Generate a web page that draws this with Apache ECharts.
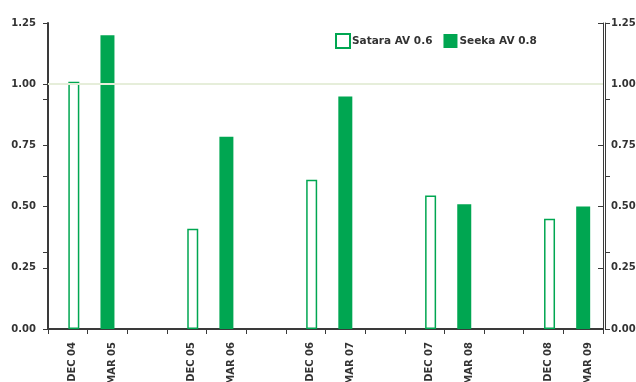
<!DOCTYPE html>
<html>
<head>
<meta charset="utf-8">
<script src="https://cdn.jsdelivr.net/npm/echarts@6/dist/echarts.min.js"></script>
<style>
  html, body { margin: 0; padding: 0; background: #fff; }
  #chart { width: 636px; height: 382px; }
</style>
</head>
<body>
<div id="chart"></div>
<script>
  // categories, blanks are the gaps between years
  var categories = ['DEC 04', 'MAR 05', '', 'DEC 05', 'MAR 06', '', 'DEC 06', 'MAR 07', '', 'DEC 07', 'MAR 08', '', 'DEC 08', 'MAR 09']
  var sataraValues = [1.01, null, null, 0.41, null, null, 0.61, null, null, 0.545, null, null, 0.45, null]
  var seekaValues = [null, 1.20, null, null, 0.785, null, null, 0.95, null, null, 0.51, null, null, 0.50]
  var yTicks = [0, 0.25, 0.5, 0.75, 1, 1.25]

  var green = '#00a651'
  var axisColor = '#3a3a3a'
  var font = 'DejaVu Sans'

  var chart = echarts.init(document.getElementById('chart'))

  /*  value axis, used twice (left / right) */
  function valueAxis(pos, gridIndex, show) {
    return {
      type: 'value',
      gridIndex: gridIndex,
      position: pos,
      show: show,
      min: yTicks[0],
      max: yTicks[yTicks.length - 1],
      interval: 0.25,
      axisLine: { show: true, lineStyle: { color: axisColor, width: pos == 'left' ? 2 : 1 } },
      axisTick: { show: true, inside: pos == 'right', length: 5, lineStyle: { color: axisColor } },
      axisLabel: {
        margin: pos == 'left' ? 12 : 8,
        color: '#333',
        fontFamily: font,
        fontWeight: 'bold',
        fontSize: 10,
        formatter: function(v) { return v.toFixed(2) }
      },
      splitLine: { show: false }
    }
  }

  /*  extra tick set seen on both vertical axes */
  function extraTicks(pos, offset) {
    return {
      type: 'value',
      gridIndex: 0,
      position: pos,
      offset: offset,
      min: 0,
      max: 4,
      interval: 1,
      axisLine: { show: pos == 'right', lineStyle: { color: axisColor, width: 1 } },
      axisTick: { show: true, length: 5, lineStyle: { color: axisColor } },
      axisLabel: { show: false },
      splitLine: { show: false }
    }
  }

  var option = {
    animation: false,
    backgroundColor: '#fff',
    grid: [
      { left: 48, right: 33, top: 23, bottom: 53, outerBoundsMode: 'none', containLabel: false },
      // the hollow bars sit a few pixels right of the slot centre
      { left: 54, right: 27, top: 23, bottom: 53, outerBoundsMode: 'none', containLabel: false }
    ],
    legend: {
      left: 335,
      top: 33,
      padding: 0,
      itemWidth: 14,
      itemHeight: 14,
      itemGap: 11,
      icon: 'rect',
      textStyle: { color: '#333', fontFamily: font, fontWeight: 'bold', fontSize: 10.5, padding: [0, 0, 0, -3] },
      data: ['Satara AV 0.6', 'Seeka AV 0.8']
    },
    xAxis: [{
      type: 'category',
      gridIndex: 0,
      data: categories,
      axisLine: { lineStyle: { color: axisColor, width: 2 } },
      axisTick: { show: true, length: 5, interval: 0, lineStyle: { color: axisColor } },
      axisLabel: {
        interval: 0,
        rotate: 90,
        margin: 13,
        verticalAlign: 'top',
        color: '#333',
        fontFamily: font,
        fontWeight: 'bold',
        fontSize: 10
      }
    }, {
      type: 'category',
      gridIndex: 1,
      show: false,
      data: categories
    }],
    yAxis: [
      valueAxis('left', 0, true),
      valueAxis('right', 0, true),
      extraTicks('left', 0),
      extraTicks('right', 2),
      valueAxis('left', 1, false)
    ],
    series: [{
      name: 'Satara AV 0.6',
      type: 'bar',
      xAxisIndex: 1,
      yAxisIndex: 4,
      barWidth: 11,
      itemStyle: { color: '#fff', borderColor: green, borderWidth: 1.5 },
      data: sataraValues
    }, {
      name: 'Seeka AV 0.8',
      type: 'bar',
      xAxisIndex: 0,
      yAxisIndex: 0,
      barWidth: 14,
      itemStyle: { color: green },
      data: seekaValues,
      markLine: {
        silent: true,
        symbol: 'none',
        label: { show: false },
        lineStyle: { color: '#e6eeda', width: 2, type: 'solid' },
        data: [{ yAxis: 1 }]
      }
    }]
  }

  chart.setOption(option)
</script>
</body>
</html>
